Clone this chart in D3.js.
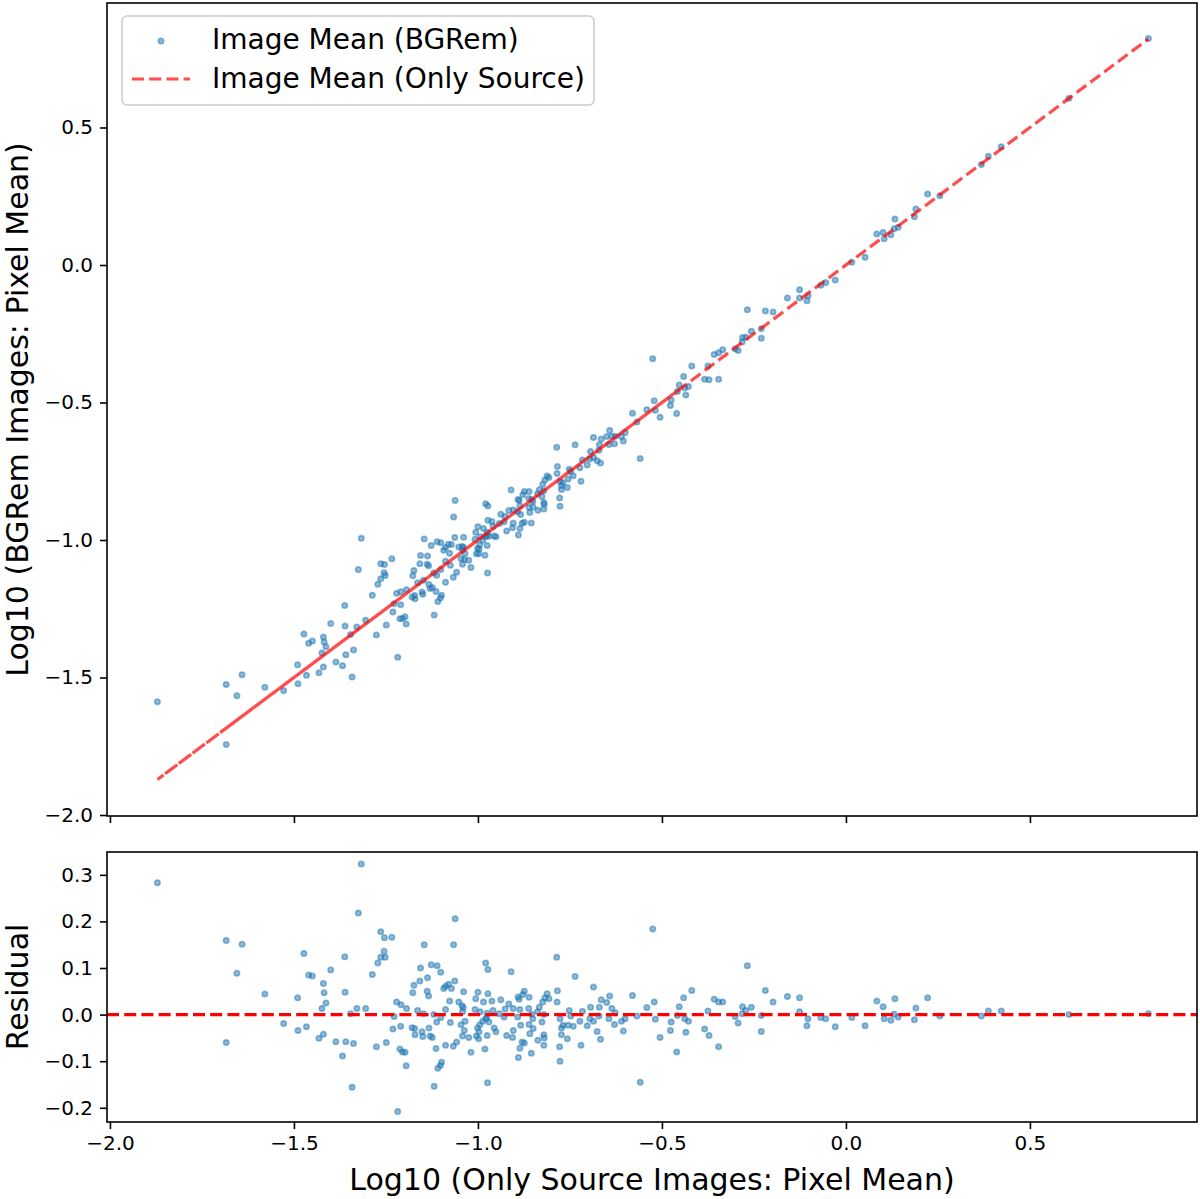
<!DOCTYPE html>
<html>
<head>
<meta charset="utf-8">
<script src="https://cdn.jsdelivr.net/npm/d3@7"></script>
<style>
  body { margin: 0; background: #fff; }
  svg { display: block; font-family: "DejaVu Sans", sans-serif; }
</style>
</head>
<body>
<div id="chart"></div>
<script>
// log10 pixel mean of the "only source" images (x of every point)
var srcMean = [
  -1.684,-1.641,-1.655,-1.579,-1.490,-1.528,-1.489,
  -1.317,-1.325,-1.062,-1.264,-1.254,-1.234,-1.146,-1.066,-1.473,-1.362,
  -1.255,-1.264,-1.252,-1.272,-0.979,-1.127,-1.111,-1.156,-1.400,-1.101,
  -0.973,-1.460,-1.450,-1.287,-1.137,-1.420,-1.158,-1.174,-1.088,-1.080,
  -1.063,-1.072,-1.093,-1.418,-1.361,-1.177,-1.138,-1.134,-1.039,-1.000,
  -1.006,-0.973,-1.413,-1.424,-1.221,-1.209,-1.194,-1.329,-1.305,-1.346,
  -1.871,
  -1.077,-1.052,-1.040,-1.042,-1.164,-1.148,-1.120,-1.088,-1.101,-1.008,
  -0.994,-1.228,-1.112,-1.035,-1.075,-0.979,-1.466,-1.231,-1.210,-1.179,
  -1.172,-1.152,-1.133,-1.171,-1.150,-1.130,-1.124,-1.037,-1.001,-0.997,
  -1.004,-1.042,-1.025,-1.420,-1.432,-1.386,-1.359,-1.338,-1.276,-1.249,
  -1.684,
  -1.368,-1.212,-1.205,-1.198,-1.114,-1.088,-1.067,-1.058,-1.019,-0.981,
  -1.195,-1.099,-1.102,-1.109,-0.974,-1.342,-1.119,-1.218,
  -1.046,-1.043,-0.926,-0.995,-0.998,-0.884,-0.859,-0.850,-0.716,-0.627,-0.821,-0.696,-0.773,
  -0.525,-0.786,-0.910,-0.736,-0.686,-0.580,-0.521,-0.541,-0.784,-0.785,
  -0.874,-0.891,-0.888,-0.861,-0.938,-0.962,-0.985,-0.916,-0.904,-0.959,
  -0.886,-0.862,-0.833,-0.824,-0.818,-0.812,-0.807,-0.838,-0.854,-0.892,
  -0.929,-0.942,-0.975,-0.976,-0.987,-0.970,-0.956,-0.951,-0.975,-0.922,
  -0.904,-0.906,-0.880,-0.874,-0.886,-0.890,-0.855,-0.837,-0.821,-0.820,
  -0.821,-0.851,-0.861,-0.826,-0.777,-0.769,-0.773,-0.755,-0.741,-0.752,
  -0.723,-0.703,-0.686,-0.694,-0.670,-0.665,-0.642,-0.650,-0.636,-0.671,
  -0.644,-0.629,-0.610,-0.600,-0.605,-0.676,-0.667,-0.757,-0.720,-0.778,
  -0.777,-0.559,-0.568,-0.518,-0.475,-0.477,-0.505,-0.460,-0.453,-0.878,
  -0.748,
  -0.458,-0.441,-0.438,-0.435,-0.428,-0.419,-0.384,-0.375,-0.372,-0.358,
  -0.346,-0.346,-0.335,-0.301,-0.293,-0.282,-0.281,-0.272,-0.268,-0.257,
  -0.230,-0.230,-0.219,-0.198,-0.159,-0.126,-0.126,-0.106,-0.103,-0.068,
  -0.055,-0.029,0.016,0.052,0.084,0.101,0.104,0.122,0.131,0.133,
  0.142,0.186,0.190,0.222,0.255,0.368,0.387,0.422,0.606,0.822
];

// BGRem minus only-source, same order as srcMean
var residual = [
  0.159,0.151,0.089,0.044,0.036,-0.019,-0.034,
  0.323,0.218,0.206,0.178,0.165,0.166,0.150,0.150,0.131,0.124,
  0.136,0.123,0.123,0.111,0.111,0.107,0.105,0.100,0.096,0.091,
  0.097,0.085,0.083,0.086,0.079,0.067,0.072,0.063,0.061,0.065,
  0.072,0.056,0.056,0.047,0.048,0.047,0.050,0.040,0.049,0.048,
  0.034,0.045,0.025,0.013,0.027,0.021,0.013,0.013,0.013,0.002,
  0.283,
  0.029,0.027,0.015,0.006,0.009,0.002,0.000,0.011,-0.006,0.011,
  0.006,-0.004,-0.016,-0.014,-0.017,-0.009,-0.026,-0.031,-0.025,-0.028,
  -0.030,-0.037,-0.029,-0.043,-0.047,-0.046,-0.049,-0.034,-0.029,-0.037,
  -0.046,-0.046,-0.049,-0.042,-0.051,-0.058,-0.058,-0.062,-0.069,-0.060,
  -0.060,
  -0.089,-0.074,-0.080,-0.081,-0.073,-0.066,-0.068,-0.059,-0.081,-0.074,
  -0.110,-0.102,-0.109,-0.115,-0.146,-0.156,-0.154,-0.208,
  -0.022,0.019,0.012,-0.022,-0.052,-0.023,-0.041,-0.030,0.007,0.004,0.000,-0.009,-0.043,
  0.184,0.123,0.092,0.082,0.059,0.041,0.027,0.015,0.051,0.027,
  0.050,0.038,0.033,0.037,0.032,0.029,0.027,0.023,0.013,0.009,
  0.011,0.013,0.016,0.027,0.036,0.045,0.034,0.006,0.001,-0.005,
  -0.005,0.002,0.003,-0.007,-0.014,-0.016,-0.029,-0.037,-0.045,-0.045,
  -0.034,-0.049,-0.059,-0.061,-0.072,-0.092,-0.083,-0.055,-0.043,-0.050,
  -0.066,-0.009,-0.021,-0.016,-0.009,-0.023,-0.029,-0.023,-0.025,0.009,
  -0.014,-0.024,-0.014,0.016,0.016,0.032,0.040,0.026,0.013,-0.003,
  -0.009,-0.021,-0.014,-0.009,-0.035,-0.036,-0.053,-0.052,-0.066,-0.069,
  -0.100,-0.145,-0.003,-0.010,-0.016,-0.034,-0.049,-0.080,0.017,0.043,
  -0.003,
  -0.002,0.036,-0.009,-0.038,-0.014,0.052,-0.031,0.008,-0.045,0.033,
  0.027,-0.069,0.027,-0.004,-0.018,0.002,0.017,0.009,0.105,0.016,
  -0.002,-0.036,0.052,0.027,0.039,0.036,0.006,-0.024,-0.009,-0.006,
  -0.009,-0.026,-0.006,-0.024,0.029,0.017,-0.009,-0.012,0.001,0.034,
  -0.005,-0.011,0.014,0.036,-0.003,-0.003,0.008,0.008,0.000,0.002
];

var xTicks = [-2.0, -1.5, -1.0, -0.5, 0.0, 0.5];
var yTicksTop = [-2.0, -1.5, -1.0, -0.5, 0.0, 0.5];
var yTicksResid = [-0.2, -0.1, 0.0, 0.1, 0.2, 0.3];
var legendLabels = ["Image Mean (BGRem)", "Image Mean (Only Source)"];
var xLabel = "Log10 (Only Source Images: Pixel Mean)";
var yLabelTop = "Log10 (BGRem Images: Pixel Mean)";
var yLabelResid = "Residual";

// points: BGRem mean = source mean + residual
var data = srcMean.map(function (v, i) {
  return { src: v, res: residual[i], bg: v + residual[i] };
});

var W = 1200, H = 1199;
var left = 107, right = 1197;
var top1 = 3, bot1 = 816, top2 = 852, bot2 = 1122;
var blue = "#1f77b4";
var font = "DejaVu Sans, sans-serif";
var dotR = 2.7;

var svg = d3.select("#chart").append("svg")
  .attr("width", W)
  .attr("height", H);

var x = d3.scaleLinear().domain([-2.008, 0.954]).range([left, right]);
var yTop = d3.scaleLinear().domain([-2.0036, 0.9527]).range([bot1, top1]);
var yRes = d3.scaleLinear().domain([-0.2305, 0.349]).range([bot2, top2]);

var fmt = d3.format(".1f");

function styleAxis(g) {
  g.select(".domain").remove();
  g.selectAll(".tick line").attr("stroke", "#000").attr("stroke-width", 1.6);
  g.selectAll(".tick text")
    .attr("fill", "#000")
    .attr("font-size", 20)
    .attr("font-family", font);
}

// clip paths for both panels
var defs = svg.append("defs");
defs.append("clipPath").attr("id", "clipTop").append("rect")
  .attr("x", left).attr("y", top1).attr("width", right - left).attr("height", bot1 - top1);
defs.append("clipPath").attr("id", "clipRes").append("rect")
  .attr("x", left).attr("y", top2).attr("width", right - left).attr("height", bot2 - top2);

// ---- top panel ----
var pTop = svg.append("g").attr("clip-path", "url(#clipTop)");

pTop.selectAll("circle")
  .data(data)
  .enter().append("circle")
    .attr("cx", function (d) { return x(d.src); })
    .attr("cy", function (d) { return yTop(d.bg); })
    .attr("r", dotR)
    .attr("fill", blue).attr("fill-opacity", 0.5)
    .attr("stroke", blue).attr("stroke-opacity", 0.5).attr("stroke-width", 1.6);

// y = x line drawn through the points in data order (like plt.plot(x, x, 'r--'))
pTop.append("path")
  .datum(data)
  .attr("fill", "none")
  .attr("stroke", "red")
  .attr("stroke-opacity", 0.7)
  .attr("stroke-width", 3.2)
  .attr("stroke-dasharray", "12,5.2")
  .attr("d", d3.line()
    .x(function (d) { return x(d.src); })
    .y(function (d) { return yTop(d.src); }));

svg.append("rect")
  .attr("x", left).attr("y", top1)
  .attr("width", right - left).attr("height", bot1 - top1)
  .attr("fill", "none").attr("stroke", "#000").attr("stroke-width", 1.6);

svg.append("g")
  .attr("transform", "translate(" + left + ",0)")
  .call(d3.axisLeft(yTop).tickValues(yTicksTop).tickSize(7).tickPadding(7).tickFormat(fmt))
  .call(styleAxis);

svg.append("g")
  .attr("transform", "translate(0," + bot1 + ")")
  .call(d3.axisBottom(x).tickValues(xTicks).tickSize(7).tickFormat(""))
  .call(styleAxis);

svg.append("text")
  .attr("transform", "translate(28," + ((top1 + bot1) / 2) + ") rotate(-90)")
  .attr("text-anchor", "middle")
  .attr("font-size", 30)
  .attr("font-family", font)
  .text(yLabelTop);

// legend
var lg = svg.append("g");
lg.append("rect")
  .attr("x", 122).attr("y", 16).attr("width", 472).attr("height", 89).attr("rx", 5)
  .attr("fill", "#fff").attr("fill-opacity", 0.8)
  .attr("stroke", "#cccccc").attr("stroke-width", 1.6);
lg.append("circle")
  .attr("cx", 161).attr("cy", 41).attr("r", dotR)
  .attr("fill", blue).attr("fill-opacity", 0.5)
  .attr("stroke", blue).attr("stroke-opacity", 0.5).attr("stroke-width", 1.6);
lg.append("line")
  .attr("x1", 132).attr("x2", 190).attr("y1", 79).attr("y2", 79)
  .attr("stroke", "red").attr("stroke-opacity", 0.7)
  .attr("stroke-width", 3.2).attr("stroke-dasharray", "12,5.2");
lg.selectAll("text.lab")
  .data(legendLabels)
  .enter().append("text")
    .attr("class", "lab")
    .attr("x", 212)
    .attr("y", function (d, i) { return 49 + i * 39; })
    .attr("font-size", 28)
    .attr("font-family", font)
    .text(function (d) { return d; });

// ---- residual panel ----
var pRes = svg.append("g").attr("clip-path", "url(#clipRes)");

pRes.selectAll("circle")
  .data(data)
  .enter().append("circle")
    .attr("cx", function (d) { return x(d.src); })
    .attr("cy", function (d) { return yRes(d.res); })
    .attr("r", dotR)
    .attr("fill", blue).attr("fill-opacity", 0.5)
    .attr("stroke", blue).attr("stroke-opacity", 0.5).attr("stroke-width", 1.6);

pRes.append("line")
  .attr("x1", left).attr("x2", right)
  .attr("y1", yRes(0)).attr("y2", yRes(0))
  .attr("stroke", "red")
  .attr("stroke-width", 3.2)
  .attr("stroke-dasharray", "12,5.2");

svg.append("rect")
  .attr("x", left).attr("y", top2)
  .attr("width", right - left).attr("height", bot2 - top2)
  .attr("fill", "none").attr("stroke", "#000").attr("stroke-width", 1.6);

svg.append("g")
  .attr("transform", "translate(" + left + ",0)")
  .call(d3.axisLeft(yRes).tickValues(yTicksResid).tickSize(7).tickPadding(7).tickFormat(fmt))
  .call(styleAxis);

svg.append("g")
  .attr("transform", "translate(0," + bot2 + ")")
  .call(d3.axisBottom(x).tickValues(xTicks).tickSize(7).tickPadding(7).tickFormat(fmt))
  .call(styleAxis);

svg.append("text")
  .attr("transform", "translate(28," + ((top2 + bot2) / 2) + ") rotate(-90)")
  .attr("text-anchor", "middle")
  .attr("font-size", 30)
  .attr("font-family", font)
  .text(yLabelResid);

svg.append("text")
  .attr("x", (left + right) / 2)
  .attr("y", 1190)
  .attr("text-anchor", "middle")
  .attr("font-size", 30)
  .attr("font-family", font)
  .text(xLabel);
</script>
</body>
</html>
